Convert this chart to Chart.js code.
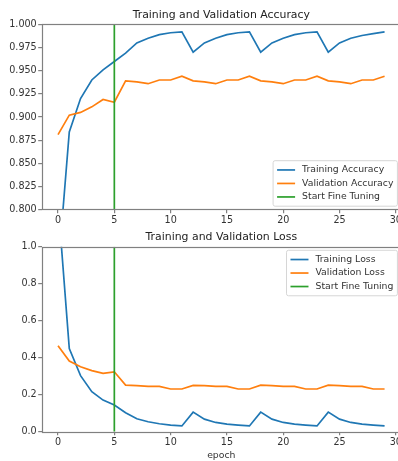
<!DOCTYPE html>
<html>
<head>
<meta charset="utf-8">
<script src="https://cdn.jsdelivr.net/npm/chart.js@4/dist/chart.umd.min.js"></script>
<style>
  html, body { margin: 0; padding: 0; background: #fff; overflow: hidden; width: 398px; height: 461px; }
  #top { position: absolute; left: 0; top: 0; }
  #bot { position: absolute; left: 0; top: 230px; }
</style>
</head>
<body>
<canvas id="top" width="404" height="230"></canvas>
<canvas id="bot" width="404" height="231"></canvas>
<script>
// ---- data ----
const epochs = [0,1,2,3,4,5,6,7,8,9,10,11,12,13,14,15,16,17,18,19,20,21,22,23,24,25,26,27,28,29];
const trainAcc = [0.734,0.884,0.920,0.940,0.951,0.960,0.969,0.980,0.985,0.989,0.991,0.992,0.970,0.980,0.985,0.989,0.991,0.992,0.970,0.980,0.985,0.989,0.991,0.992,0.970,0.980,0.985,0.988,0.990,0.992];
const valAcc = [0.881,0.902,0.905,0.911,0.919,0.916,0.939,0.938,0.936,0.940,0.940,0.944,0.939,0.938,0.936,0.940,0.940,0.944,0.939,0.938,0.936,0.940,0.940,0.944,0.939,0.938,0.936,0.940,0.940,0.944];
const trainLoss = [1.24,0.450,0.303,0.216,0.171,0.144,0.103,0.070,0.054,0.043,0.036,0.031,0.106,0.068,0.050,0.041,0.036,0.031,0.106,0.068,0.050,0.041,0.036,0.031,0.106,0.068,0.050,0.041,0.036,0.031];
const valLoss = [0.465,0.382,0.351,0.330,0.315,0.324,0.252,0.249,0.245,0.245,0.231,0.231,0.250,0.249,0.245,0.245,0.231,0.231,0.252,0.249,0.245,0.245,0.231,0.231,0.252,0.249,0.245,0.245,0.231,0.231];
const fineTuneEpoch = 5;
const accTicks = [0.800,0.825,0.850,0.875,0.900,0.925,0.950,0.975,1.000];
const lossTicks = [0.0,0.2,0.4,0.6,0.8,1.0];
const xTicks = [0,5,10,15,20,25,30];

const BLUE = '#1f77b4', ORANGE = '#ff7f0e', GREEN = '#2ca02c';
Chart.defaults.font.family = "'DejaVu Sans', sans-serif";
Chart.defaults.color = '#333';

function pts(ys) { return epochs.map((e, i) => ({x: e, y: ys[i]})); }

const framePlugin = {
  id: 'frame',
  afterDatasetsDraw(chart) {
    const a = chart.chartArea, c = chart.ctx;
    c.save();
    c.strokeStyle = '#808080';
    c.lineWidth = 1.2;
    c.strokeRect(Math.round(a.left) + 0.5, Math.round(a.top) + 0.5, Math.round(a.right - a.left), Math.round(a.bottom - a.top));
    c.restore();
  }
};

const inLegendPlugin = {
  id: 'inLegend',
  afterDraw(chart, args, opts) {
    const c = chart.ctx, a = chart.chartArea;
    const fs = 9.3, rowH = 13.5, padIn = 2.5, borderPad = 3.5, padL = 4, sample = 18, gap = 7, padR = 4;
    c.save();
    c.font = fs + "px 'DejaVu Sans'";
    const items = chart.data.datasets;
    let tw = 0;
    items.forEach(d => { tw = Math.max(tw, c.measureText(d.label).width); });
    const w = padL + sample + gap + tw + padR;
    const h = padIn * 2 + rowH * items.length;
    const x = a.right - borderPad - w;
    const y = opts.position === 'upper right' ? a.top + borderPad : a.bottom - borderPad - h;
    c.globalAlpha = 0.8;
    c.fillStyle = '#fff';
    c.beginPath();
    c.roundRect(x, y, w, h, 2);
    c.fill();
    c.globalAlpha = 1;
    c.strokeStyle = '#d6d6d6';
    c.lineWidth = 1;
    c.stroke();
    c.textBaseline = 'middle';
    c.textAlign = 'left';
    items.forEach((d, i) => {
      const cy = y + padIn + rowH * (i + 0.5);
      c.strokeStyle = d.borderColor;
      c.lineWidth = 1.7;
      c.beginPath();
      c.moveTo(x + padL, cy);
      c.lineTo(x + padL + sample, cy);
      c.stroke();
      c.fillStyle = '#333';
      c.fillText(d.label, x + padL + sample + gap, cy);
    });
    c.restore();
  }
};

function makeChart(id, cfg) {
  const ds = [
    {label: cfg.names[0], data: pts(cfg.a), borderColor: BLUE, order: 2},
    {label: cfg.names[1], data: pts(cfg.b), borderColor: ORANGE, order: 1},
    {label: 'Start Fine Tuning', data: [{x: fineTuneEpoch, y: cfg.ymin}, {x: fineTuneEpoch, y: cfg.ymax}], borderColor: GREEN, order: 0}
  ].map(d => Object.assign(d, {borderWidth: 1.7, pointRadius: 0, tension: 0, fill: false, clip: 0}));
  return new Chart(document.getElementById(id), {
    type: 'line',
    data: {datasets: ds},
    plugins: [framePlugin, inLegendPlugin],
    options: {
      responsive: false,
      animation: false,
      devicePixelRatio: 1,
      layout: {padding: {left: 0, right: 3.1, top: 0, bottom: 0}},
      plugins: {
        legend: {display: false},
        tooltip: {enabled: false},
        title: {display: true, text: cfg.title, fullSize: false, color: '#222',
                font: {size: 10.9, weight: 'normal'}, padding: cfg.titlePad},
        inLegend: {position: cfg.legendPos}
      },
      scales: {
        x: {
          type: 'linear', min: -1.45, max: 30.45,
          afterFit(s) { s.height = cfg.xh; s.paddingLeft = 0; s.paddingRight = 0; },
          afterBuildTicks(s) { s.ticks = xTicks.map(v => ({value: v})); },
          ticks: {font: {size: 9.6}, padding: 2, maxRotation: 0, color: '#333'},
          grid: {display: true, drawOnChartArea: false, drawTicks: true, tickLength: 3.5, tickColor: '#808080', lineWidth: 1.2},
          border: {display: false},
          title: cfg.xtitle ? {display: true, text: cfg.xtitle, font: {size: 9.3}, padding: {top: 0, bottom: 0}, color: '#333'} : {display: false}
        },
        y: {
          type: 'linear', min: cfg.ymin, max: cfg.ymax,
          afterFit(s) { s.width = 41.7; s.paddingTop = 0; s.paddingBottom = 0; },
          afterBuildTicks(s) { s.ticks = cfg.yticks.map(v => ({value: v})); },
          ticks: {font: {size: 9.6}, padding: 1.5, color: '#333', callback: v => v.toFixed(cfg.dec)},
          grid: {display: true, drawOnChartArea: false, drawTicks: true, tickLength: 3.5, tickColor: '#808080', lineWidth: 1.2},
          border: {display: false}
        }
      }
    }
  });
}

makeChart('top', {
  names: ['Training Accuracy', 'Validation Accuracy'], a: trainAcc, b: valAcc,
  ymin: 0.8, ymax: 1.0, yticks: accTicks, dec: 3,
  title: 'Training and Validation Accuracy', titlePad: {top: 8.2, bottom: 3.1},
  legendPos: 'lower right', xh: 20.3, xtitle: null
});
makeChart('bot', {
  names: ['Training Loss', 'Validation Loss'], a: trainLoss, b: valLoss,
  ymin: 0.0, ymax: 1.0, yticks: lossTicks, dec: 1,
  title: 'Training and Validation Loss', titlePad: {top: 0.8, bottom: 2.9},
  legendPos: 'upper right', xh: 29.3, xtitle: 'epoch'
});
</script>
</body>
</html>
